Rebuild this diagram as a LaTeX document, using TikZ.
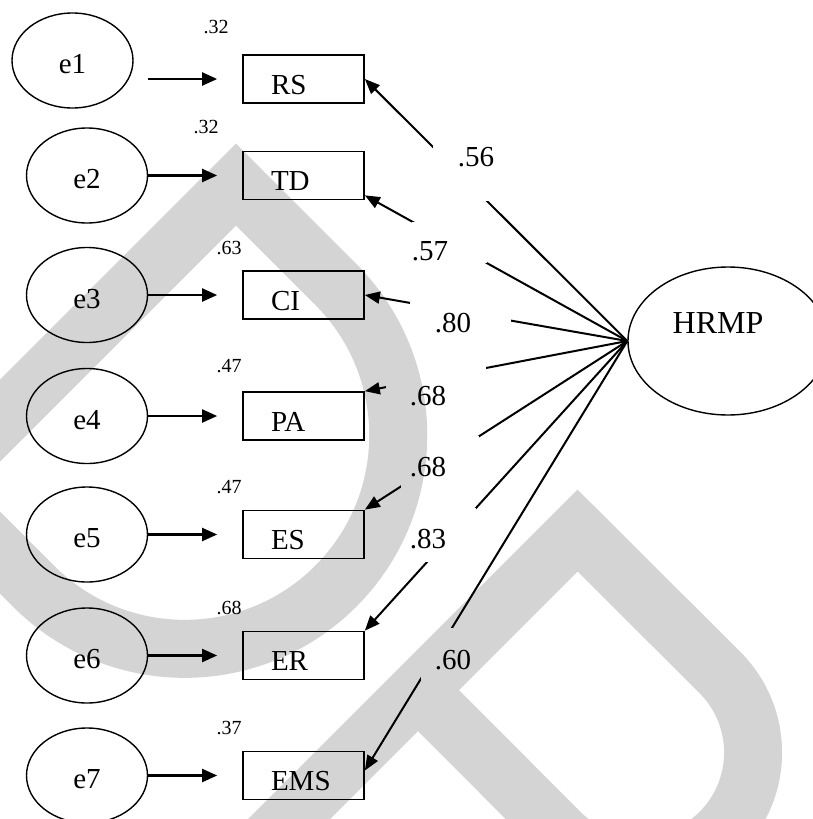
\documentclass[tikz,border=0pt]{standalone}
\usepackage{fontspec}
\setmainfont{Liberation Serif}
\usepackage{tikz}
\usetikzlibrary{shapes.geometric, arrows.meta, positioning}

\tikzset{
  latent/.style={ellipse, draw, line width=1.4pt, minimum width=121pt, minimum height=95pt,
    inner sep=0pt, font=\fontsize{29}{29}\selectfont, text height=26pt, text depth=0pt},
  obs/.style={draw, line width=1.7pt, minimum height=48pt, text width=65pt, inner xsep=28pt,
    inner ysep=0pt, align=left, font=\fontsize{29}{29}\selectfont, text height=30pt, text depth=0pt},
  errarrow/.style={line width=2.1pt, -{Triangle[length=15pt,width=13pt]}, shorten >=25pt},
  loadpath/.style={line width=2pt, -{Triangle[length=15pt,width=12pt]}},
  varlbl/.style={font=\fontsize{20}{20}\selectfont, inner sep=0pt},
  coef/.style={font=\fontsize{29}{29}\selectfont, inner sep=0pt}
}

\begin{document}
\begin{tikzpicture}[x=1pt, y=-1pt]
        \useasboundingbox (0,0) rectangle (813,819);

        % 1. Error terms and observed indicators
        \node[latent] (e1) at (72.5,60.5) {e1};
        \node[obs] (rs) at (303.5,79) {RS};
        \draw[errarrow] ([xshift=14pt]e1.east |- rs.west) -- (rs.west);
        \foreach \i/\nm/\txt/\y in {2/td/TD/175.5, 3/ci/CI/295, 4/pa/PA/416, 5/es/ES/534.5, 6/er/ER/655.5, 7/ems/EMS/775.5} {
            \node[latent] (e\i) at (87,\y) {e\i};
            \node[obs] (\nm) at (303.5,\y) {\txt};
            \draw[errarrow] (e\i.east) -- (e\i.east -| \nm.west);
        }

        % Squared multiple correlations
        \foreach \v/\x/\y [count=\k] in {.32/216/27, .32/206/127, .63/229/248, .47/229/366, .47/229/487, .68/229/608, .37/229/728}
            \node[varlbl] (r\k) at (\x,\y) {\v};

        % 2. Latent factor
        \node[latent, minimum width=200pt, minimum height=148pt,
              label={[name=hrmptxt, font=\fontsize{32}{32}\selectfont, xshift=-10pt, yshift=18pt]center:HRMP}]
              (hrmp) at (728,341) {};

        % 3. Loadings
        \coordinate (tdtip) at ([yshift=5pt]td.south east);
        \coordinate (emstip) at ([yshift=5pt]ems.east);
        \draw[loadpath] (hrmp.west) -- (rs.east);
        \draw[loadpath] (hrmp.west) -- (tdtip);
        \draw[loadpath] (hrmp.west) -- (ci.east);
        \draw[loadpath] (hrmp.west) -- (pa.north east);
        \draw[loadpath] (hrmp.west) -- (es.north east);
        \draw[loadpath] (hrmp.west) -- (er.north east);
        \draw[loadpath] (hrmp.west) -- (emstip);

        % label backgrounds cut the lines
        \foreach \xa/\ya/\xb/\yb in {433/140/500/201, 412/222/487/263, 410/302/511/335, 386/364/486/408,
                                     401/436/479/489, 410/508/476/562, 421/628/476/682}
            \fill[white] (\xa,\ya) rectangle (\xb,\yb);
        \foreach \v/\x/\y [count=\k] in {.56/476/157, .57/430/251, .80/453/323, .68/428/396, .68/428/467, .83/428/539, .60/453/660}
            \node[coef] (c\k) at (\x,\y) {\v};

        % 4. Watermark
        \begin{scope}
            \clip (0,0) rectangle (813,819);
            \draw[black, draw opacity=0.17, line width=58pt, line join=miter]
                (236,184.6) -- (335.7,284.3) .. controls (419.1,367.7) and (419.1,502.9) .. (335.7,586.3)
                .. controls (252.3,669.7) and (117.1,669.7) .. (33.7,586.3) -- (-66,486.6) -- cycle;
            \draw[black, draw opacity=0.17, line width=58pt, line join=miter]
                (250,858) -- (577.5,530.5) -- (720,672.6) .. controls (764.1,716.7) and (764.1,788.3) .. (720,832.4)
                .. controls (675.9,876.5) and (604.1,876.5) .. (560,832.4) -- (418,690);
        \end{scope}

    \end{tikzpicture}
\end{document}
